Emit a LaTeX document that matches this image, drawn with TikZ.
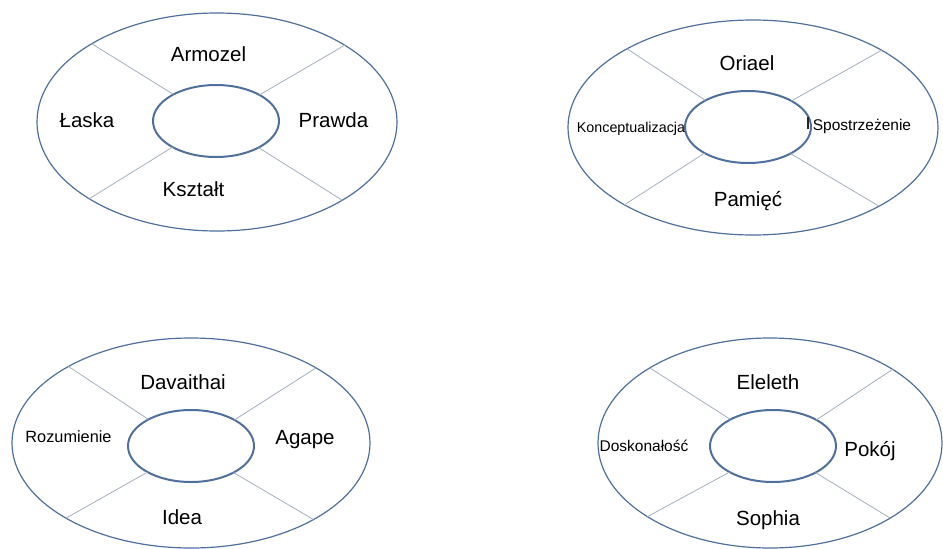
\documentclass[tikz,border=0pt]{standalone}
\usepackage{fontspec}
\setmainfont{Liberation Sans}
\usetikzlibrary{shapes.geometric}
\definecolor{ringblue}{HTML}{4F6F9C}
\definecolor{spokegray}{HTML}{A3B0BE}
\begin{document}
\begin{tikzpicture}[x=1pt,y=-1pt,
  outerE/.style={ellipse,draw=ringblue,line width=1.2pt,inner sep=0pt,outer sep=0pt},
  innerE/.style={ellipse,draw=ringblue,line width=2pt,inner sep=0pt,outer sep=0pt,minimum width=126pt,minimum height=72pt},
  spoke/.style={draw=spokegray,line width=0.8pt},
  big/.style={anchor=base,inner sep=0pt,font=\fontsize{20.5}{24}\selectfont},
  small/.style={anchor=base,inner sep=0pt,font=\fontsize{15.5}{18}\selectfont}]
\useasboundingbox (0,0) rectangle (943,549);
% ring 1
\node[outerE,minimum width=360pt,minimum height=218pt] (o1) at (217,122) {};
\node[innerE] (i1) at (216,121) {};
% ring 2
\node[outerE,minimum width=370pt,minimum height=215pt] (o2) at (753,127.5) {};
\node[innerE] (i2) at (748,127) {};
% ring 3
\node[outerE,minimum width=358pt,minimum height=210pt] (o3) at (191,443) {};
\node[innerE] (i3) at (191,446) {};
% ring 4
\node[outerE,minimum width=344pt,minimum height=210pt] (o4) at (770,443) {};
\node[innerE] (i4) at (773,446) {};
\foreach \r in {1,2,3,4}{
  \foreach \a in {31.5,148.5,211.5,328.5}{
    \draw[spoke] (i\r.\a) -- (o\r.\a);
  }
}
% labels ring 1
\node[big] (armozel) at (208.5,61) {Armozel};
\node[big] (laska) at (87,127) {Łaska};
\node[big] (prawda) at (333.5,127) {Prawda};
\node[big] (ksztalt) at (193.5,196) {Kształt};
% labels ring 2
\node[big] (oriael) at (747,70) {Oriael};
\node[anchor=base,inner sep=0pt,font=\fontsize{14.3}{17}\selectfont] (koncept) at (631,132) {Konceptualizacja};
\node[small] (spostrz) at (862,130) {Spostrzeżenie};
\draw[line width=1.6pt,black!85] (808,116.5) -- (808,129) coordinate (cursor);
\node[big] (pamiec) at (748,206) {Pamięć};
% labels ring 3
\node[big] (davaithai) at (183,389) {Davaithai};
\node[anchor=base,inner sep=0pt,font=\fontsize{16.3}{19}\selectfont] (rozum) at (68.5,442) {Rozumienie};
\node[big] (agape) at (305,444) {Agape};
\node[big] (idea) at (182,524) {Idea};
% labels ring 4
\node[big] (eleleth) at (768,389) {Eleleth};
\node[small] (dosk) at (644,451) {Doskonałość};
\node[big] (pokoj) at (870,456) {Pokój};
\node[big] (sophia) at (768,525) {Sophia};
\end{tikzpicture}
\end{document}
